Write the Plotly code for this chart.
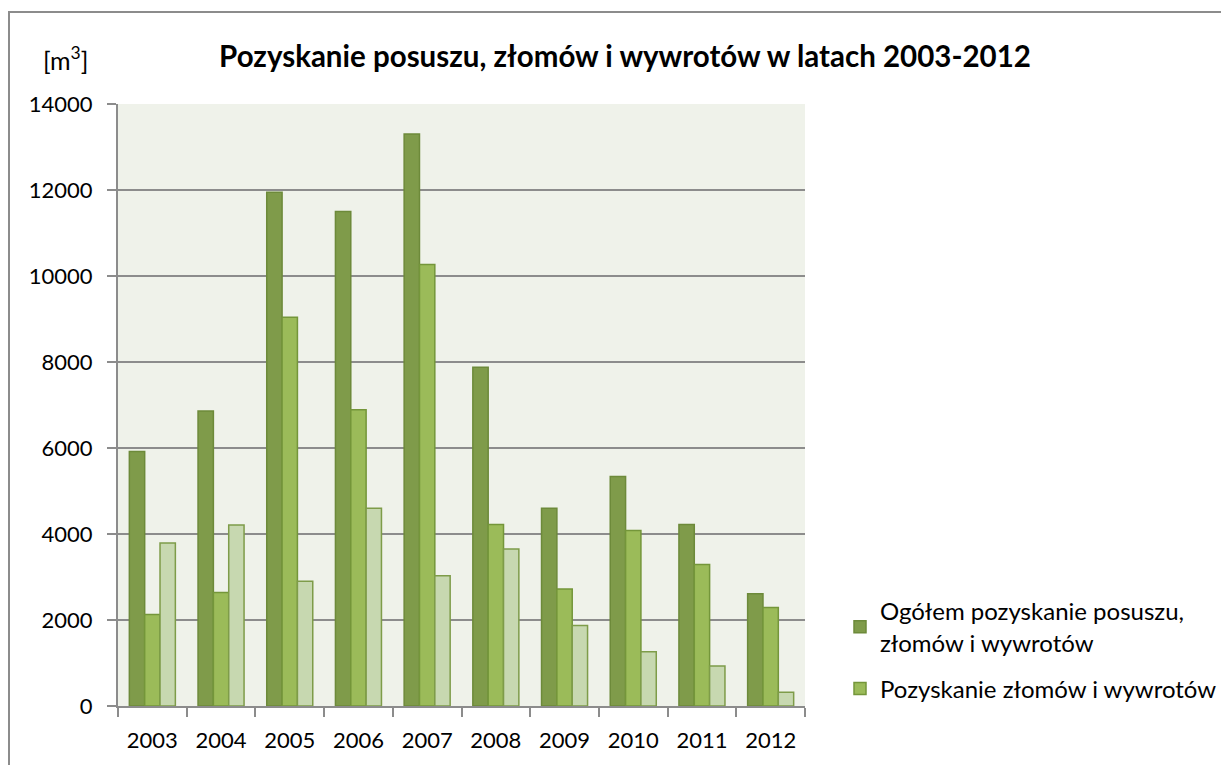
import plotly.graph_objects as go

years = ["2003", "2004", "2005", "2006", "2007", "2008", "2009", "2010", "2011", "2012"]
ogolem = [5920, 6860, 11950, 11500, 13300, 7880, 4600, 5340, 4220, 2610]
zlomy = [2130, 2640, 9040, 6890, 10270, 4220, 2720, 4080, 3290, 2290]
posusz = [3790, 4210, 2900, 4600, 3030, 3650, 1870, 1260, 930, 320]

name1 = "Ogółem pozyskanie posuszu,<br>złomów i wywrotów"
name2 = "Pozyskanie złomów i wywrotów"
name3 = "Pozyskanie posuszu"
title = "Pozyskanie posuszu, złomów i wywrotów w latach 2003-2012"
yticks = [0, 2000, 4000, 6000, 8000, 10000, 12000, 14000]

FONT = "Lato"
# the page has an 8px body margin; compensate so the plot area lands at x 118-805, y 104-706
OFF = 8
L, T, PW, PH = 118 - OFF, 104 - OFF, 687, 602

fig = go.Figure()
fig.add_trace(go.Bar(x=years, y=ogolem, name=name1, legendgroup="a",
                     marker=dict(color="#7f9b4a", line=dict(color="#6d8a3a", width=1.5))))
fig.add_trace(go.Bar(x=years, y=zlomy, name=name2, legendgroup="b",
                     marker=dict(color="#9bbb59", line=dict(color="#74963a", width=1.5))))
fig.add_trace(go.Bar(x=years, y=posusz, name=name3, showlegend=False, legendgroup="c",
                     marker=dict(color="#c7d8b0", line=dict(color="#7e9c49", width=1.5))))

fig.update_layout(
    width=1229, height=765,
    margin=dict(l=L, r=1229 - L - PW, t=T, b=765 - T - PH),
    paper_bgcolor="white",
    plot_bgcolor="#eff2ea",
    barmode="group",
    bargap=0.33,
    bargroupgap=0,
    font=dict(family=FONT, size=22, color="black"),
    title=dict(text="<b>" + title + "</b>", x=(625 - OFF) / 1229,
               xanchor="center", xref="container",
               y=1 - (57 - OFF) / 765, yanchor="middle", yref="container",
               font=dict(family=FONT, size=29.5, color="black")),
    showlegend=True,
    legend=dict(x=(840 - 118) / PW, xanchor="left", y=(706 - 650) / PH, yanchor="middle",
                font=dict(family=FONT, size=24, color="black"),
                bgcolor="rgba(0,0,0,0)", itemwidth=30,
                traceorder="grouped", tracegroupgap=12),
    xaxis=dict(type="category", showline=True, linecolor="#8c8c8c", linewidth=2,
               ticks="outside", tickson="boundaries", ticklen=9, tickwidth=2,
               tickcolor="#8c8c8c", showgrid=False, tickfont=dict(size=22),
               ticklabelstandoff=14, range=[-0.5, 9.5]),
    yaxis=dict(range=[0, 14000], tickvals=yticks, ticktext=[str(v) for v in yticks],
               showline=True, linecolor="#8c8c8c", linewidth=2,
               ticks="outside", ticklen=9, tickwidth=2, tickcolor="#8c8c8c",
               showgrid=True, gridcolor="#8c8c8c", gridwidth=1.5,
               zeroline=False, tickfont=dict(size=22), ticklabelstandoff=10),
    annotations=[dict(text="[m<sup>3</sup>]", xref="paper", yref="paper",
                      x=(65 - 118) / PW, y=(706 - 58) / PH,
                      xanchor="center", yanchor="middle", showarrow=False,
                      font=dict(family=FONT, size=25, color="black"))],
    shapes=[dict(type="rect", xref="paper", yref="paper",
                 x0=(9 - 118) / PW, x1=2.0, y0=-0.3, y1=(706 - 12) / PH,
                 line=dict(color="#8c8c8c", width=2), layer="below")],
)

fig.write_html("out.html")
